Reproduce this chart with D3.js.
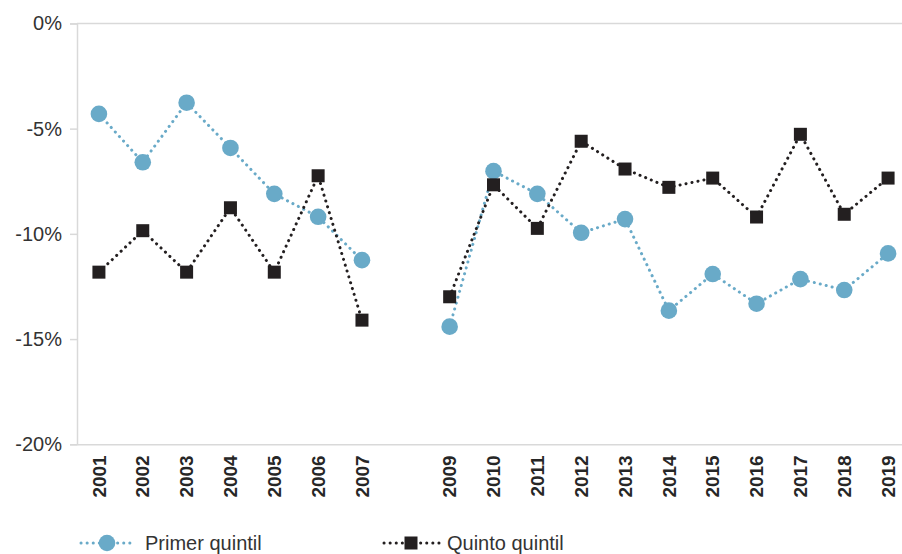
<!DOCTYPE html>
<html><head><meta charset="utf-8">
<script src="https://cdn.jsdelivr.net/npm/d3@7"></script>
<style>
body{margin:0;background:#fff;}
svg{display:block;}
</style>
</head><body>
<svg id="chart" width="902" height="554"></svg>
<script>
const years = ["2001","2002","2003","2004","2005","2006","2007","2008","2009","2010","2011","2012","2013","2014","2015","2016","2017","2018","2019"];
const yearLabels = ["2001","2002","2003","2004","2005","2006","2007","","2009","2010","2011","2012","2013","2014","2015","2016","2017","2018","2019"];
const primerQuintil = [-4.3,-6.6,-3.77,-5.92,-8.1,-9.19,-11.25,null,-14.41,-7.02,-8.1,-9.95,-9.3,-13.65,-11.91,-13.32,-12.15,-12.67,-10.93];
const quintoQuintil = [-11.82,-9.85,-11.82,-8.76,-11.82,-7.24,-14.1,null,-12.99,-7.67,-9.74,-5.6,-6.92,-7.79,-7.35,-9.2,-5.27,-9.07,-7.35];
const yTicks = [0,-5,-10,-15,-20];
const seriesNames = ["Primer quintil","Quinto quintil"];

(function(){
const svg = d3.select("#chart");
const mLeft = 77, mRight = 910, mTop = 23.4, mBottom = 444.3;
const font = "'Liberation Sans Narrow','Liberation Sans',Arial,sans-serif";

const x = d3.scaleBand().domain(years).range([mLeft, mRight]);
const y = d3.scaleLinear().domain([-20, 0]).range([mBottom, mTop]);

const axisColor = "#d9d9d9";

const yAxis = svg.append("g").attr("transform", `translate(${mLeft},0)`)
  .call(d3.axisLeft(y).tickValues(yTicks).tickSize(7).tickPadding(8).tickFormat(d => d + "%"));
yAxis.select(".domain").attr("stroke", axisColor).attr("stroke-width", 1.5);
yAxis.selectAll(".tick line").attr("stroke", axisColor).attr("stroke-width", 1.5);
yAxis.selectAll("text").attr("fill", "#333").style("font-family", font).style("font-size", "20px");

svg.append("line").attr("x1", mLeft).attr("x2", 902).attr("y1", y(0)).attr("y2", y(0))
  .attr("stroke", axisColor).attr("stroke-width", 1.5);

const xAxis = svg.append("g").attr("transform", `translate(0,${mBottom})`)
  .call(d3.axisBottom(x).tickSize(0).tickFormat((d, i) => yearLabels[i]));
xAxis.select(".domain").attr("stroke", axisColor).attr("stroke-width", 1.5);
xAxis.selectAll("text")
  .attr("transform", "rotate(-90)")
  .attr("text-anchor", "end")
  .attr("x", -11).attr("y", 0).attr("dy", "0.35em")
  .attr("fill", "#262626")
  .style("font-family", "'Liberation Sans',Arial,sans-serif").style("font-size", "19px")
  .style("font-weight", "bold");

const cx = d => x(d) + x.bandwidth() / 2;
const blue = "#69aac8", black = "#231f20";

function drawSeries(vals, color, marker) {
  const data = years.map((yr, i) => ({yr, v: vals[i]}));
  const line = d3.line().defined(d => d.v !== null).x(d => cx(d.yr)).y(d => y(d.v));
  svg.append("path").datum(data).attr("d", line).attr("fill", "none")
    .attr("stroke", color).attr("stroke-width", 3).attr("stroke-linecap", "round")
    .attr("stroke-dasharray", "0.1 6");
  const pts = data.filter(d => d.v !== null);
  if (marker === "circle") {
    svg.selectAll(null).data(pts).enter().append("circle")
      .attr("cx", d => cx(d.yr)).attr("cy", d => y(d.v)).attr("r", 8.3).attr("fill", color);
  } else {
    svg.selectAll(null).data(pts).enter().append("rect")
      .attr("x", d => cx(d.yr) - 6.5).attr("y", d => y(d.v) - 6.5)
      .attr("width", 13).attr("height", 13).attr("fill", color);
  }
}
drawSeries(primerQuintil, blue, "circle");
drawSeries(quintoQuintil, black, "square");

const legY = 543;
const legend = [
  {name: seriesNames[0], color: blue, marker: "circle", x0: 81, x1: 135, mx: 107, tx: 145},
  {name: seriesNames[1], color: black, marker: "square", x0: 384, x1: 440, mx: 411, tx: 447}
];
legend.forEach(l => {
  svg.append("line").attr("x1", l.x0).attr("x2", l.x1).attr("y1", legY).attr("y2", legY)
    .attr("stroke", l.color).attr("stroke-width", 3).attr("stroke-linecap", "round")
    .attr("stroke-dasharray", "0.1 6");
  if (l.marker === "circle") {
    svg.append("circle").attr("cx", l.mx).attr("cy", legY).attr("r", 8.3).attr("fill", l.color);
  } else {
    svg.append("rect").attr("x", l.mx - 6.5).attr("y", legY - 6.5).attr("width", 13).attr("height", 13).attr("fill", l.color);
  }
  svg.append("text").attr("x", l.tx).attr("y", legY).attr("dy", "0.35em")
    .attr("fill", "#333").style("font-family", font).style("font-size", "20px").text(l.name);
});
})();
</script>
</body></html>
